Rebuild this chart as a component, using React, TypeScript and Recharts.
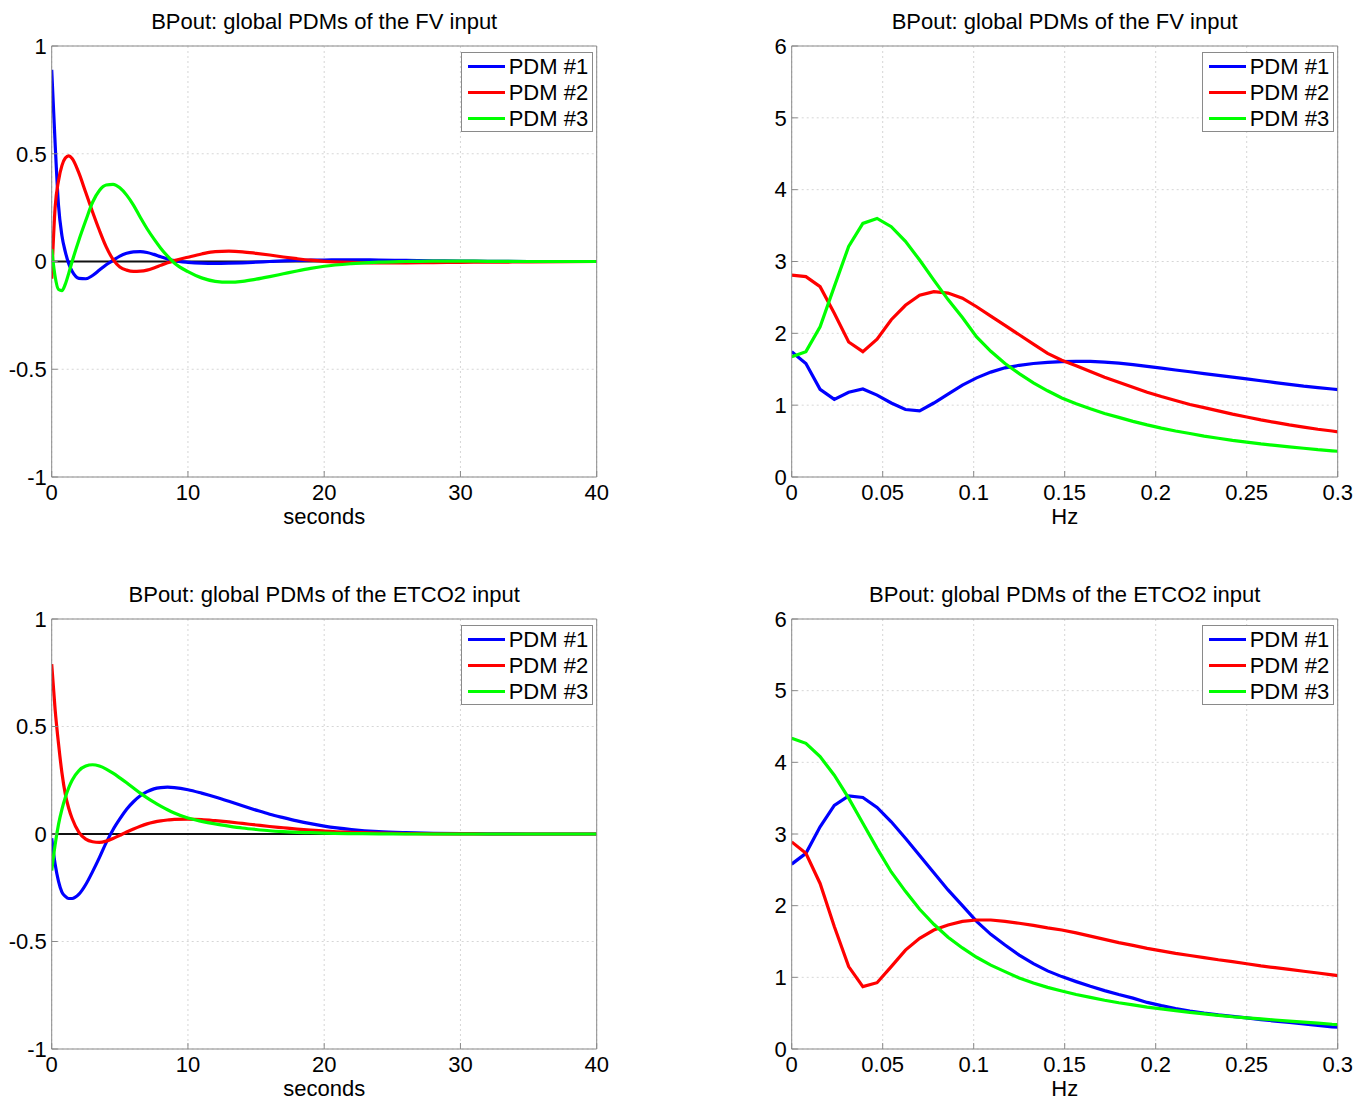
import React from 'react';
import { LineChart, Line, XAxis, YAxis, CartesianGrid, ReferenceLine, Legend, Label } from 'recharts';

const FONT = '"Liberation Sans", Arial, Helvetica, sans-serif';

// ---------- tick labels / categories ----------
const seriesNames = ['PDM #1', 'PDM #2', 'PDM #3'];
const seriesColors = ['#0000ff', '#ff0000', '#00ff00'];
const timeXTicks = [0, 10, 20, 30, 40];
const timeYTicks = [-1, -0.5, 0, 0.5, 1];
const freqXTicks = [0, 0.05, 0.1, 0.15, 0.2, 0.25, 0.3];
const freqYTicks = [0, 1, 2, 3, 4, 5, 6];

// ---------- time axis (seconds) ----------
const times = [0, 0.25, 0.5, 0.75, 1, 1.25, 1.5, 2, 2.5, 3, 3.5, 4, 4.5, 5, 5.5, 6, 6.5, 7, 7.5, 8, 8.5, 9,
  10, 11, 12, 13, 14, 15, 16, 17, 18, 19, 20, 22, 24, 26, 28, 30, 32, 35, 40];

// FV input, time domain
const fvTime1 = [0.89, 0.55, 0.26, 0.12, 0.045, -0.01, -0.045, -0.078, -0.08, -0.065, -0.04, -0.015, 0.005, 0.025, 0.038, 0.045, 0.046, 0.042, 0.033, 0.022, 0.012, 0.004,
  -0.004, -0.008, -0.009, -0.008, -0.006, -0.003, 0.0, 0.003, 0.005, 0.006, 0.007, 0.008, 0.007, 0.005, 0.003, 0.002, 0.001, 0, 0];
const fvTime2 = [-0.08, 0.25, 0.375, 0.445, 0.48, 0.49, 0.478, 0.41, 0.32, 0.23, 0.145, 0.068, 0.01, -0.025, -0.04, -0.046, -0.045, -0.04, -0.03, -0.018, -0.006, 0.004,
  0.02, 0.035, 0.046, 0.048, 0.045, 0.038, 0.03, 0.021, 0.013, 0.006, 0.001, -0.004, -0.006, -0.006, -0.005, -0.004, -0.003, -0.002, 0];
const fvTime3 = [0.057, -0.07, -0.13, -0.135, -0.105, -0.055, 0.0, 0.1, 0.19, 0.275, 0.33, 0.355, 0.358, 0.342, 0.308, 0.262, 0.205, 0.152, 0.105, 0.062, 0.025, -0.007,
  -0.047, -0.076, -0.092, -0.096, -0.092, -0.082, -0.07, -0.057, -0.044, -0.032, -0.022, -0.01, -0.003, 0.0, 0.002, 0.002, 0.001, 0, 0];

// ETCO2 input, time domain
const co2Time1 = [-0.02, -0.14, -0.22, -0.27, -0.29, -0.3, -0.3, -0.28, -0.235, -0.175, -0.11, -0.04, 0.02, 0.07, 0.115, 0.15, 0.178, 0.197, 0.21, 0.216, 0.218, 0.216,
  0.206, 0.19, 0.172, 0.152, 0.131, 0.111, 0.092, 0.076, 0.061, 0.048, 0.037, 0.021, 0.011, 0.006, 0.003, 0.002, 0.001, 0, 0];
const co2Time2 = [0.79, 0.58, 0.42, 0.285, 0.185, 0.12, 0.072, 0.008, -0.024, -0.036, -0.039, -0.033, -0.021, -0.006, 0.009, 0.023, 0.036, 0.047, 0.055, 0.061, 0.065, 0.068,
  0.069, 0.067, 0.062, 0.056, 0.049, 0.042, 0.035, 0.029, 0.023, 0.018, 0.014, 0.008, 0.004, 0.002, 0.001, 0.001, 0, 0, 0];
const co2Time3 = [-0.17, -0.05, 0.045, 0.115, 0.17, 0.215, 0.25, 0.295, 0.316, 0.322, 0.316, 0.302, 0.283, 0.261, 0.238, 0.214, 0.19, 0.168, 0.148, 0.13, 0.113, 0.098,
  0.074, 0.059, 0.047, 0.037, 0.028, 0.021, 0.015, 0.011, 0.008, 0.006, 0.004, 0.002, 0.001, 0, 0, 0, 0, 0, 0];

// ---------- frequency axis (Hz) ----------
const freqs = [0, 0.0078, 0.0156, 0.0234, 0.0313, 0.0391, 0.0469, 0.0547, 0.0625, 0.0703,
  0.0781, 0.0859, 0.0938, 0.1016, 0.1094, 0.1172, 0.125, 0.1328, 0.1406, 0.1484,
  0.1563, 0.1641, 0.1719, 0.1797, 0.1875, 0.1953, 0.2031, 0.2109, 0.2188, 0.2266,
  0.2344, 0.2422, 0.25, 0.2578, 0.2656, 0.2734, 0.2813, 0.2891, 0.2969, 0.3047];

// FV input, frequency domain
const fvFreq1 = [1.745, 1.58, 1.22, 1.08, 1.18, 1.225, 1.14, 1.03, 0.94, 0.92,
  1.03, 1.155, 1.28, 1.38, 1.46, 1.52, 1.555, 1.58, 1.595, 1.605,
  1.61, 1.61, 1.6, 1.585, 1.565, 1.54, 1.515, 1.49, 1.465, 1.44,
  1.415, 1.39, 1.365, 1.34, 1.315, 1.29, 1.265, 1.245, 1.225, 1.205];
const fvFreq2 = [2.81, 2.79, 2.65, 2.28, 1.88, 1.745, 1.92, 2.19, 2.39, 2.53,
  2.58, 2.56, 2.49, 2.37, 2.24, 2.11, 1.98, 1.85, 1.72, 1.625,
  1.55, 1.47, 1.39, 1.32, 1.25, 1.18, 1.12, 1.065, 1.01, 0.965,
  0.92, 0.875, 0.835, 0.795, 0.76, 0.725, 0.695, 0.665, 0.64, 0.615];
const fvFreq3 = [1.675, 1.745, 2.09, 2.65, 3.21, 3.53, 3.6, 3.485, 3.28, 3.02,
  2.74, 2.47, 2.22, 1.95, 1.75, 1.58, 1.44, 1.31, 1.2, 1.1,
  1.02, 0.95, 0.885, 0.83, 0.775, 0.725, 0.68, 0.64, 0.605, 0.57,
  0.54, 0.51, 0.485, 0.46, 0.44, 0.42, 0.4, 0.38, 0.365, 0.35];

// ETCO2 input, frequency domain
const co2Freq1 = [2.58, 2.73, 3.1, 3.4, 3.53, 3.51, 3.37, 3.17, 2.94, 2.7,
  2.46, 2.22, 2.0, 1.78, 1.6, 1.45, 1.31, 1.19, 1.09, 1.01,
  0.94, 0.875, 0.815, 0.76, 0.71, 0.65, 0.605, 0.565, 0.53, 0.5,
  0.475, 0.455, 0.435, 0.41, 0.39, 0.37, 0.35, 0.33, 0.31, 0.295];
const co2Freq2 = [2.89, 2.73, 2.31, 1.71, 1.15, 0.87, 0.925, 1.15, 1.38, 1.545,
  1.66, 1.73, 1.78, 1.8, 1.8, 1.78, 1.755, 1.725, 1.69, 1.66,
  1.62, 1.575, 1.53, 1.485, 1.445, 1.405, 1.37, 1.335, 1.305, 1.275,
  1.245, 1.22, 1.19, 1.16, 1.135, 1.11, 1.085, 1.06, 1.035, 1.01];
const co2Freq3 = [4.335, 4.265, 4.08, 3.82, 3.5, 3.15, 2.8, 2.47, 2.2, 1.95,
  1.74, 1.56, 1.41, 1.28, 1.17, 1.08, 0.99, 0.92, 0.86, 0.81,
  0.76, 0.72, 0.68, 0.645, 0.615, 0.585, 0.56, 0.535, 0.51, 0.49,
  0.47, 0.45, 0.435, 0.42, 0.405, 0.39, 0.375, 0.36, 0.345, 0.335];

type Row = { x: number; s1: number; s2: number; s3: number };
function buildRows(xs: number[], a: number[], b: number[], c: number[]): Row[] {
  return xs.map((x, i) => ({ x, s1: a[i], s2: b[i], s3: c[i] }));
}

const AXIS_COLOR = '#8a8a8a';
const TEXT_STYLE = { fontSize: 22, fill: '#000', fontFamily: FONT };
const YW = 50;
const XH = 50;
const LEG_W = 132;
const LEG_H = 80;

function LegendBox() {
  return (
    <div
      style={{
        boxSizing: 'border-box',
        width: LEG_W,
        height: LEG_H,
        border: `1px solid ${AXIS_COLOR}`,
        background: '#fff',
        fontFamily: FONT,
        fontSize: 22,
        color: '#000',
        position: 'relative',
      }}
    >
      {seriesNames.map((n, i) => (
        <div
          key={n}
          style={{ position: 'absolute', left: 0, top: 0.5 + i * 25.7, height: 25.7, display: 'flex', alignItems: 'center', whiteSpace: 'nowrap' }}
        >
          <span style={{ display: 'inline-block', marginLeft: 6, width: 37, height: 3, background: seriesColors[i] }} />
          <span style={{ marginLeft: 4, lineHeight: '25px' }}>{n}</span>
        </div>
      ))}
    </div>
  );
}

type PanelProps = {
  box: { x: number; y: number; w: number; h: number };
  plot: { x0: number; y0: number; x1: number; y1: number };
  title: string;
  xLabel: string;
  rows: Row[];
  xDomain: [number, number];
  xTicks: number[];
  yDomain: [number, number];
  yTicks: number[];
  zeroLine: boolean;
  curve: 'monotone' | 'linear';
  titleOffset: number;
};

function Panel(p: PanelProps) {
  const margin = {
    top: p.plot.y0 - p.box.y - 1,
    left: p.plot.x0 - p.box.x - YW,
    right: p.box.x + p.box.w - p.plot.x1 - 1,
    bottom: p.box.y + p.box.h - p.plot.y1 - XH,
  };
  const keys = ['s1', 's2', 's3'];
  return (
    <div style={{ position: 'absolute', left: p.box.x, top: p.box.y, width: p.box.w, height: p.box.h }}>
      <LineChart width={p.box.w} height={p.box.h} data={p.rows} margin={margin}>
        <CartesianGrid stroke="#d6d6d6" strokeDasharray="2 3" />
        <XAxis
          dataKey="x"
          type="number"
          domain={p.xDomain}
          ticks={p.xTicks}
          interval={0}
          allowDataOverflow
          height={XH}
          axisLine={{ stroke: AXIS_COLOR }}
          tickLine={{ stroke: AXIS_COLOR }}
          tickSize={-6}
          tickMargin={13}
          tick={TEXT_STYLE}
        >
          <Label value={p.xLabel} position="insideBottom" offset={3} fontSize={22} fill="#000" fontFamily={FONT} />
        </XAxis>
        <XAxis
          xAxisId="top"
          orientation="top"
          dataKey="x"
          type="number"
          domain={p.xDomain}
          ticks={p.xTicks}
          interval={0}
          allowDataOverflow
          height={1}
          axisLine={{ stroke: AXIS_COLOR }}
          tickLine={{ stroke: AXIS_COLOR }}
          tickSize={-6}
          tick={false}
        >
          <Label value={p.title} position="top" offset={p.titleOffset} fontSize={22} fill="#000" fontFamily={FONT} />
        </XAxis>
        <YAxis
          type="number"
          domain={p.yDomain}
          ticks={p.yTicks}
          interval={0}
          allowDataOverflow
          width={YW}
          axisLine={{ stroke: AXIS_COLOR }}
          tickLine={{ stroke: AXIS_COLOR }}
          tickSize={-6}
          tickMargin={11}
          tick={TEXT_STYLE}
        />
        <YAxis
          yAxisId="right"
          orientation="right"
          type="number"
          domain={p.yDomain}
          ticks={p.yTicks}
          interval={0}
          allowDataOverflow
          width={1}
          axisLine={{ stroke: AXIS_COLOR }}
          tickLine={{ stroke: AXIS_COLOR }}
          tickSize={-6}
          tick={false}
        />
        {p.zeroLine && <ReferenceLine y={0} stroke="#111" strokeWidth={1.8} />}
        {keys.map((k, i) => (
          <Line
            key={k}
            dataKey={k}
            name={seriesNames[i]}
            type={p.curve}
            stroke={seriesColors[i]}
            strokeWidth={3.2}
            dot={false}
            activeDot={false}
            isAnimationActive={false}
          />
        ))}
        <Legend
          layout="vertical"
          align="center"
          verticalAlign="middle"
          content={() => <LegendBox />}
          wrapperStyle={{
            position: 'absolute',
            left: p.plot.x1 - 4 - LEG_W - p.box.x,
            top: p.plot.y0 + 6.3 - p.box.y,
            width: LEG_W,
            height: LEG_H,
          }}
        />
      </LineChart>
    </div>
  );
}

const TOP_PLOT_Y0 = 46;
const TOP_PLOT_Y1 = 477;
const BOT_PLOT_Y0 = 619;
const BOT_PLOT_Y1 = 1049;
const LEFT_X0 = 51.7;
const LEFT_X1 = 596.7;
const RIGHT_X0 = 791.7;
const RIGHT_X1 = 1337.7;

export default function App() {
  return (
    <div style={{ position: 'absolute', left: 0, top: 0, width: 1369, height: 1100, background: '#fff', overflow: 'hidden' }}>
      <Panel
        box={{ x: 0, y: 0, w: 690, h: 560 }}
        plot={{ x0: LEFT_X0, y0: TOP_PLOT_Y0, x1: LEFT_X1, y1: TOP_PLOT_Y1 }}
        title="BPout: global PDMs of the FV input"
        xLabel="seconds"
        rows={buildRows(times, fvTime1, fvTime2, fvTime3)}
        xDomain={[0, 40]}
        xTicks={timeXTicks}
        yDomain={[-1, 1]}
        yTicks={timeYTicks}
        zeroLine
        curve="monotone"
        titleOffset={16}
      />
      <Panel
        box={{ x: 690, y: 0, w: 679, h: 560 }}
        plot={{ x0: RIGHT_X0, y0: TOP_PLOT_Y0, x1: RIGHT_X1, y1: TOP_PLOT_Y1 }}
        title="BPout: global PDMs of the FV input"
        xLabel="Hz"
        rows={buildRows(freqs, fvFreq1, fvFreq2, fvFreq3)}
        xDomain={[0, 0.3]}
        xTicks={freqXTicks}
        yDomain={[0, 6]}
        yTicks={freqYTicks}
        zeroLine={false}
        curve="linear"
        titleOffset={16}
      />
      <Panel
        box={{ x: 0, y: 560, w: 690, h: 540 }}
        plot={{ x0: LEFT_X0, y0: BOT_PLOT_Y0, x1: LEFT_X1, y1: BOT_PLOT_Y1 }}
        title="BPout: global PDMs of the ETCO2 input"
        xLabel="seconds"
        rows={buildRows(times, co2Time1, co2Time2, co2Time3)}
        xDomain={[0, 40]}
        xTicks={timeXTicks}
        yDomain={[-1, 1]}
        yTicks={timeYTicks}
        zeroLine
        curve="monotone"
        titleOffset={16}
      />
      <Panel
        box={{ x: 690, y: 560, w: 679, h: 540 }}
        plot={{ x0: RIGHT_X0, y0: BOT_PLOT_Y0, x1: RIGHT_X1, y1: BOT_PLOT_Y1 }}
        title="BPout: global PDMs of the ETCO2 input"
        xLabel="Hz"
        rows={buildRows(freqs, co2Freq1, co2Freq2, co2Freq3)}
        xDomain={[0, 0.3]}
        xTicks={freqXTicks}
        yDomain={[0, 6]}
        yTicks={freqYTicks}
        zeroLine={false}
        curve="linear"
        titleOffset={16}
      />
    </div>
  );
}
